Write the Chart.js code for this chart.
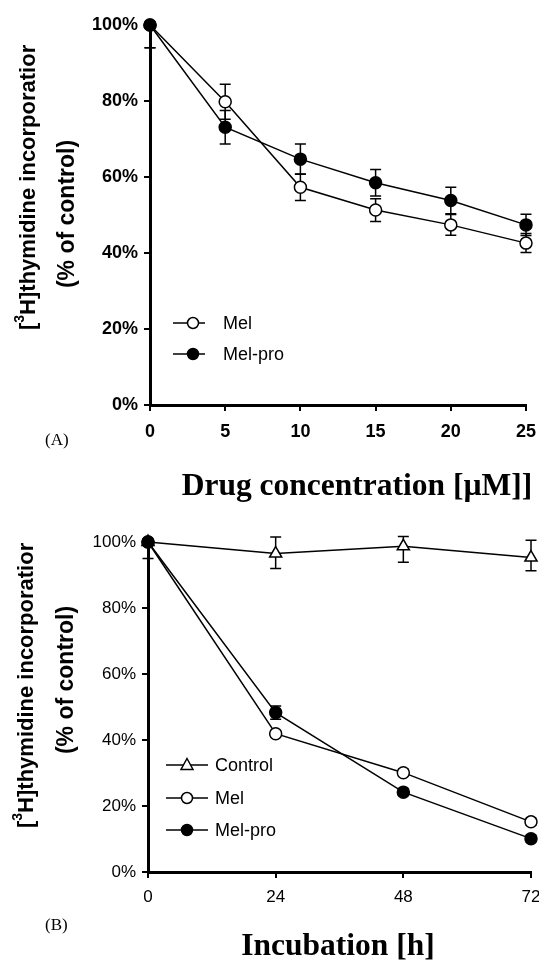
<!DOCTYPE html>
<html>
<head>
<meta charset="utf-8">
<script src="https://cdn.jsdelivr.net/npm/chart.js@4/dist/chart.umd.min.js"></script>
<style>
  html,body{margin:0;padding:0;background:#fff;}
  body{width:539px;height:967px;position:relative;overflow:hidden;}
  #wa{position:absolute;left:0;top:0;width:539px;height:510px;}
  #wb{position:absolute;left:0;top:510px;width:539px;height:457px;}
</style>
</head>
<body>
<div id="wa"><canvas id="ca"></canvas></div>
<div id="wb"><canvas id="cb"></canvas></div>
<script>
// ---------- Panel A data ----------
const concA = [0, 5, 10, 15, 20, 25];
const melA = [100, 79.8, 57.3, 51.3, 47.4, 42.6];
const melErrHighA = [0, 4.6, 3.5, 3.0, 2.7, 2.5];
const melErrLowA = [6, 4.6, 3.5, 3.0, 2.7, 2.5];
const melProA = [100, 73.1, 64.7, 58.5, 53.8, 47.4];
const melProErrHighA = [0, 4.4, 4.0, 3.5, 3.5, 2.8];
const melProErrLowA = [6, 4.4, 4.0, 3.5, 3.5, 2.8];
const xTicksA = [0, 5, 10, 15, 20, 25];
const yTicksA = [0, 20, 40, 60, 80, 100];

// ---------- Panel B data ----------
const hoursB = [0, 24, 48, 72];
const controlB = [100, 96.5, 98.7, 95.3];
const controlErrHighB = [0, 5.0, 3.0, 5.2];
const controlErrLowB = [5, 4.5, 4.8, 4.0];
const melB = [100, 41.9, 30.1, 15.2];
const melErrHighB = [0, 1, 1, 1];
const melErrLowB = [0, 1, 1, 1];
const melProB = [100, 48.3, 24.2, 10.1];
const melProErrHighB = [0, 2, 1, 1];
const melProErrLowB = [0, 2, 1, 1];
const xTicksB = [0, 24, 48, 72];
const yTicksB = [0, 20, 40, 60, 80, 100];

const SANS = "'Liberation Sans', Arial, sans-serif";
const SERIF = "'Liberation Serif', 'Times New Roman', serif";

function pts(xs, ys){ return xs.map((x,i)=>({x:x, y:ys[i]})); }

const errorBars = {
  id:'errorBars',
  beforeDatasetsDraw(chart){
    const ctx = chart.ctx, xs = chart.scales.x, ys = chart.scales.y;
    ctx.save();
    ctx.strokeStyle = '#000'; ctx.lineWidth = 1.5;
    chart.data.datasets.forEach(ds=>{
      if(!ds.errLow) return;
      ds.data.forEach((p,i)=>{
        const px = xs.getPixelForValue(p.x);
        const py = ys.getPixelForValue(p.y);
        [[ds.errHigh[i], 1],[ds.errLow[i], -1]].forEach(([e,s])=>{
          if(!e) return;
          const ey = ys.getPixelForValue(p.y + s*e);
          ctx.beginPath();
          ctx.moveTo(px, py); ctx.lineTo(px, ey);
          ctx.moveTo(px-5.5, ey); ctx.lineTo(px+5.5, ey);
          ctx.stroke();
        });
      });
    });
    ctx.restore();
  }
};

function drawMarker(ctx, style, x, y){
  ctx.save();
  ctx.lineWidth = 1.5; ctx.strokeStyle = '#000';
  ctx.beginPath();
  if(style === 'open'){ ctx.arc(x,y,5.5,0,Math.PI*2); ctx.fillStyle='#fff'; ctx.fill(); ctx.stroke(); }
  else if(style === 'filled'){ ctx.arc(x,y,5.5,0,Math.PI*2); ctx.fillStyle='#000'; ctx.fill(); ctx.stroke(); }
  else { ctx.moveTo(x, y-6.5); ctx.lineTo(x+6, y+4.5); ctx.lineTo(x-6, y+4.5); ctx.closePath(); ctx.fillStyle='#fff'; ctx.fill(); ctx.stroke(); }
  ctx.restore();
}

function makeAnnot(cfg){
  return {
    id:'annot',
    afterDraw(chart){
      const ctx = chart.ctx;
      ctx.save();
      ctx.fillStyle = '#000';
      const f1 = 'bold 22px ' + SANS;
      ctx.save();
      ctx.translate(cfg.yt1x, cfg.yt1bottom);
      ctx.rotate(-Math.PI/2);
      ctx.textBaseline = 'middle'; ctx.textAlign = 'left';
      ctx.font = f1;
      let cx = 0;
      ctx.fillText('[', cx, 0); cx += ctx.measureText('[').width;
      ctx.font = 'bold 14px ' + SANS;
      ctx.fillText('3', cx, -9); cx += ctx.measureText('3').width;
      ctx.font = f1;
      ctx.fillText('H]thymidine incorporatior', cx, 0);
      ctx.restore();
      ctx.save();
      ctx.translate(cfg.yt2x, cfg.yt2center);
      ctx.rotate(-Math.PI/2);
      ctx.textBaseline = 'middle'; ctx.textAlign = 'center';
      ctx.font = 'bold 23px ' + SANS;
      ctx.fillText('(% of control)', 0, 0);
      ctx.restore();
      ctx.font = '17px ' + SERIF;
      ctx.textAlign = 'left'; ctx.textBaseline = 'middle';
      ctx.fillText(cfg.panel, 45, cfg.panelY);
      ctx.font = 'bold 31.5px ' + SERIF;
      ctx.textAlign = 'center'; ctx.textBaseline = 'alphabetic';
      ctx.fillText(cfg.xtitle, cfg.xtX, cfg.xtY);
      cfg.legend.forEach(it=>{
        ctx.save();
        ctx.strokeStyle = '#000'; ctx.lineWidth = 1.5;
        ctx.beginPath(); ctx.moveTo(cfg.lx1, it.y); ctx.lineTo(cfg.lx2, it.y); ctx.stroke();
        ctx.restore();
        drawMarker(ctx, it.style, cfg.lmx, it.y);
        ctx.font = '18px ' + SANS;
        ctx.textAlign = 'left'; ctx.textBaseline = 'middle';
        ctx.fillStyle = '#000';
        ctx.fillText(it.label, cfg.ltx, it.y + 1);
      });
      ctx.restore();
    }
  };
}

function lineDs(label, xs, ys, lo, hi, style, order){
  const base = {
    label, data: pts(xs, ys), errLow: lo, errHigh: hi,
    showLine: true, borderColor: '#000', borderWidth: 1.5,
    pointBorderColor: '#000', pointBorderWidth: 1.5, pointRadius: 6, pointHoverRadius: 6,
    clip: false, order
  };
  if(style === 'filled'){ base.pointBackgroundColor = '#000'; base.pointStyle = 'circle'; }
  else if(style === 'open'){ base.pointBackgroundColor = '#fff'; base.pointStyle = 'circle'; }
  else { base.pointBackgroundColor = '#fff'; base.pointStyle = 'triangle'; base.pointRadius = 7; base.pointHoverRadius = 7; }
  base.backgroundColor = base.pointBackgroundColor;
  return base;
}

function makeChart(id, opts){
  return new Chart(document.getElementById(id), {
    type: 'scatter',
    data: { datasets: opts.datasets },
    options: {
      responsive: true, maintainAspectRatio: false, animation: false,
      events: [],
      layout: { autoPadding: false, padding: { left: 0, right: opts.padRight, top: opts.padTop, bottom: 0 } },
      plugins: { legend: { display: false }, tooltip: { enabled: false } },
      scales: {
        x: {
          type: 'linear', min: opts.xTicks[0], max: opts.xTicks[opts.xTicks.length-1],
          afterBuildTicks: s => { s.ticks = opts.xTicks.map(v=>({value:v})); },
          afterFit: s => { s.height = opts.xHeight; s.paddingLeft = 0; s.paddingRight = 0; },
          grid: { display: true, drawOnChartArea: false, drawTicks: true, tickLength: 6, color: '#000', lineWidth: 2 },
          border: { display: true, color: '#000', width: 3 },
          ticks: { color: '#000', font: { family: SANS, size: opts.tickSize, weight: opts.tickWeight }, padding: opts.xTickPad, maxRotation: 0, autoSkip: false }
        },
        y: {
          type: 'linear', min: 0, max: 100,
          afterBuildTicks: s => { s.ticks = opts.yTicks.map(v=>({value:v})); },
          afterFit: s => { s.width = opts.yWidth; s.paddingTop = 0; s.paddingBottom = 0; },
          grid: { display: true, drawOnChartArea: false, drawTicks: true, tickLength: 6, color: '#000', lineWidth: 2 },
          border: { display: true, color: '#000', width: 3 },
          ticks: { color: '#000', font: { family: SANS, size: opts.tickSize, weight: opts.tickWeight }, padding: 6, callback: v => v + '%', autoSkip: false }
        }
      }
    },
    plugins: [errorBars, makeAnnot(opts.annot)]
  });
}

makeChart('ca', {
  datasets: [
    lineDs('Mel-pro', concA, melProA, melProErrLowA, melProErrHighA, 'filled', 0),
    lineDs('Mel', concA, melA, melErrLowA, melErrHighA, 'open', 1)
  ],
  xTicks: xTicksA, yTicks: yTicksA,
  padRight: 13, padTop: 25, xHeight: 105, yWidth: 150,
  tickSize: 18, tickWeight: 'bold', xTickPad: 10,
  annot: {
    yt1x: 29, yt1bottom: 330, yt2x: 68, yt2center: 214,
    panel: '(A)', panelY: 441,
    xtitle: 'Drug concentration [\u00b5M]]', xtX: 357, xtY: 495,
    lx1: 173, lx2: 205, lmx: 193, ltx: 223,
    legend: [ {label:'Mel', style:'open', y:323}, {label:'Mel-pro', style:'filled', y:354} ]
  }
});

makeChart('cb', {
  datasets: [
    lineDs('Mel-pro', hoursB, melProB, melProErrLowB, melProErrHighB, 'filled', 0),
    lineDs('Mel', hoursB, melB, melErrLowB, melErrHighB, 'open', 1),
    lineDs('Control', hoursB, controlB, controlErrLowB, controlErrHighB, 'triangle', 2)
  ],
  xTicks: xTicksB, yTicks: yTicksB,
  padRight: 8, padTop: 32, xHeight: 95, yWidth: 148,
  tickSize: 17, tickWeight: 'normal', xTickPad: 9,
  annot: {
    yt1x: 27, yt1bottom: 828 - 510, yt2x: 67, yt2center: 680 - 510,
    panel: '(B)', panelY: 926 - 510,
    xtitle: 'Incubation [h]', xtX: 338, xtY: 955 - 510,
    lx1: 166, lx2: 208, lmx: 187, ltx: 215,
    legend: [ {label:'Control', style:'triangle', y:765-510}, {label:'Mel', style:'open', y:798-510}, {label:'Mel-pro', style:'filled', y:830-510} ]
  }
});
</script>
</body>
</html>
